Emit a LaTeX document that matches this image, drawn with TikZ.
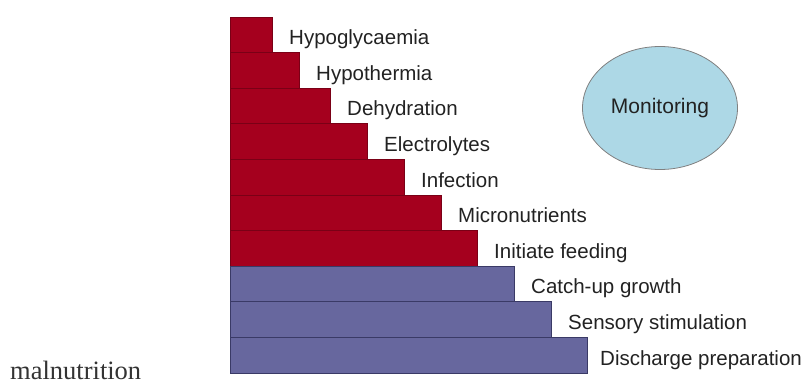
\documentclass[tikz,border=0pt]{standalone}
\usepackage{fontspec}
\setmainfont{Liberation Sans}
\newfontfamily\malserif{Liberation Serif}
\usetikzlibrary{shapes.geometric}
\definecolor{barred}{HTML}{A5001E}
\definecolor{barredline}{HTML}{7A0016}
\definecolor{barblue}{HTML}{67679E}
\definecolor{barblueline}{HTML}{3A3A66}
\definecolor{monfill}{HTML}{ADD8E6}
\definecolor{labtext}{HTML}{222222}
\tikzset{
  redbar/.style={draw=barredline, fill=barred, line width=0.8pt, anchor=north west, minimum height=35.6pt, inner sep=0pt, outer sep=0pt},
  bluebar/.style={draw=barblueline, fill=barblue, line width=0.8pt, anchor=north west, minimum height=35.6pt, inner sep=0pt, outer sep=0pt},
  lab/.style={anchor=base west, inner sep=0pt, text=labtext, font=\fontsize{20.5}{24}\selectfont},
  monnode/.style={ellipse, draw=gray, fill=monfill, line width=0.8pt, minimum width=155pt, minimum height=123pt, inner sep=0pt, text=labtext, font=\fontsize{21}{24}\selectfont}
}
\begin{document}
\begin{tikzpicture}[x=1pt,y=-1pt]
\useasboundingbox (0,0) rectangle (807,386);
\node[redbar, minimum width=42pt] (b1) at (230,17) {};
\node[redbar, minimum width=69pt] (b2) at (230,52.6) {};
\node[redbar, minimum width=100pt] (b3) at (230,88.2) {};
\node[redbar, minimum width=137pt] (b4) at (230,123.8) {};
\node[redbar, minimum width=174pt] (b5) at (230,159.4) {};
\node[redbar, minimum width=211pt] (b6) at (230,195) {};
\node[redbar, minimum width=247pt] (b7) at (230,230.6) {};
\node[bluebar, minimum width=284pt] (b8) at (230,266.2) {};
\node[bluebar, minimum width=321pt] (b9) at (230,301.8) {};
\node[bluebar, minimum width=357pt] (b10) at (230,337.4) {};
\node[lab] (l1) at ([xshift=17pt,yshift=8pt]b1.south east) {Hypoglycaemia};
\node[lab] (l2) at ([xshift=17pt,yshift=8pt]b2.south east) {Hypothermia};
\node[lab] (l3) at ([xshift=17pt,yshift=8pt]b3.south east) {Dehydration};
\node[lab] (l4) at ([xshift=17pt,yshift=8pt]b4.south east) {Electrolytes};
\node[lab] (l5) at ([xshift=17pt,yshift=8pt]b5.south east) {Infection};
\node[lab] (l6) at ([xshift=17pt,yshift=8pt]b6.south east) {Micronutrients};
\node[lab] (l7) at ([xshift=17pt,yshift=8pt]b7.south east) {Initiate feeding};
\node[lab] (l8) at ([xshift=17pt,yshift=8pt]b8.south east) {Catch-up growth};
\node[lab] (l9) at ([xshift=17pt,yshift=8pt]b9.south east) {Sensory stimulation};
\node[lab] (l10) at ([xshift=13pt,yshift=8pt]b10.south east) {Discharge preparation};
\node[monnode] (mon) at (660,108) {Monitoring};
\node[anchor=base west, inner sep=0pt, text=black!80, font=\malserif\fontsize{26.5}{30}\selectfont] (mal) at (10,379) {malnutrition};
\end{tikzpicture}
\end{document}
